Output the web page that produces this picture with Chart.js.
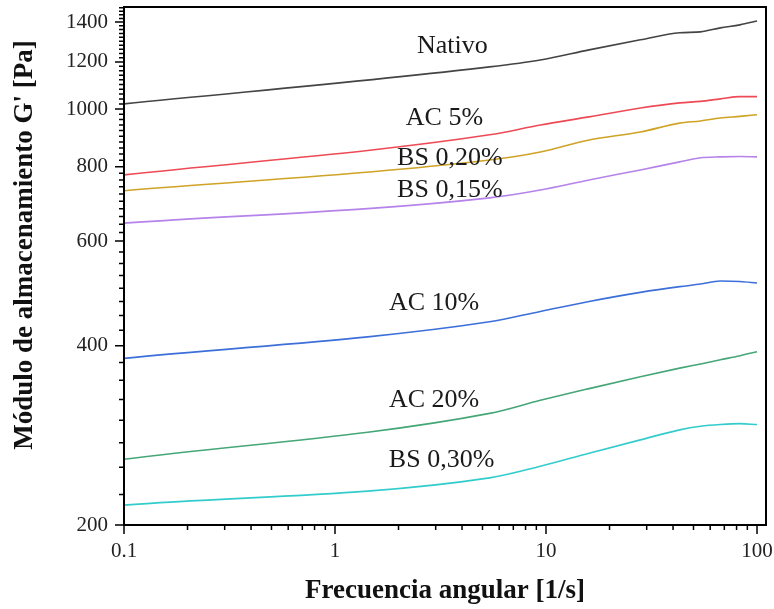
<!DOCTYPE html>
<html>
<head>
<meta charset="utf-8">
<script src="https://cdn.jsdelivr.net/npm/chart.js@4.4.1/dist/chart.umd.min.js"></script>
<style>
  html, body { margin: 0; padding: 0; background: #fff; overflow: hidden; }
  #wrap { width: 774px; height: 609px; }
</style>
</head>
<body>
<div id="wrap"><canvas id="Chart"></canvas></div>
<script>
// angular frequency [1/s]
const freq = [0.1, 5.4, 9.4, 16, 28, 43, 54, 67, 83, 100];

// storage modulus G' [Pa]
const nativo = [1020, 1177, 1209, 1257, 1307, 1343, 1348, 1369, 1385, 1406];
const ac5 = [775, 905, 940, 970, 1004, 1024, 1030, 1040, 1049, 1049];
const bs020 = [729, 821, 847, 887, 915, 947, 955, 966, 972, 978];
const bs015 = [643, 709, 731, 760, 790, 815, 828, 831, 832, 831];
const ac10 = [381, 439, 457, 475, 492, 503, 508, 514, 513, 510];
const ac20 = [258, 308, 324, 339, 355, 367, 373, 379, 385, 391];
const bs030 = [216, 240, 251, 264, 278, 289, 293, 295, 296, 295];

const seriesNames = ['Nativo', 'AC 5%', 'BS 0,20%', 'BS 0,15%', 'AC 10%', 'AC 20%', 'BS 0,30%'];
const seriesColors = ['#444444', '#ee4a55', '#cfa325', '#b583ea', '#3c6fd9', '#45a677', '#33cccc'];

// text labels placed in data space (freq, G')
const labelX = [3.6, 3.3, 3.5, 3.5, 2.95, 2.95, 3.2];
const labelY = [1277, 966, 828, 731, 472, 324, 257];

const yMajor = [200, 400, 600, 800, 1000, 1200, 1400];
const xMajor = [0.1, 1, 10, 100];

const yTitle = "Módulo de almacenamiento G' [Pa]";

const seriesData = [nativo, ac5, bs020, bs015, ac10, ac20, bs030];

const datasets = seriesData.map((vals, i) => ({
  label: seriesNames[i],
  data: vals.map((v, j) => ({ x: freq[j], y: v })),
  borderColor: seriesColors[i],
  borderWidth: 1.6,
  pointRadius: 0,
  cubicInterpolationMode: 'monotone',
  fill: false,
}));

// minor ticks: 2..9 per decade on x, linear steps on y
const xMinor = [];
[0.1, 1, 10].forEach(d => { for (let k = 2; k <= 9; k++) xMinor.push(d * k); });
const yMinor = [];
for (let v = 225; v < 400; v += 25) yMinor.push(v);
for (let v = 425; v < 600; v += 25) yMinor.push(v);
for (let v = 620; v <= 1480; v += 20) if (v % 200 !== 0) yMinor.push(v);

const frameAndTicks = {
  id: 'frameAndTicks',
  afterDatasetsDraw(chart) {
    const { ctx, chartArea: a, scales } = chart;
    const xs = scales.x, ys = scales.y;
    ctx.save();
    ctx.strokeStyle = '#000';
    ctx.lineWidth = 1.5;
    ctx.beginPath();
    xMajor.forEach(v => { const p = xs.getPixelForValue(v); ctx.moveTo(p, a.bottom); ctx.lineTo(p, a.bottom + 9); });
    xMinor.forEach(v => { const p = xs.getPixelForValue(v); ctx.moveTo(p, a.bottom); ctx.lineTo(p, a.bottom + 5); });
    yMajor.forEach(v => { const p = ys.getPixelForValue(v); ctx.moveTo(a.left, p); ctx.lineTo(a.left - 9, p); });
    yMinor.forEach(v => { const p = ys.getPixelForValue(v); ctx.moveTo(a.left, p); ctx.lineTo(a.left - 5, p); });
    ctx.stroke();
    ctx.lineWidth = 2;
    ctx.strokeRect(a.left, a.top, a.right - a.left, a.bottom - a.top);

    // curve labels
    ctx.fillStyle = '#1a1a1a';
    ctx.font = '26px "Liberation Serif", "DejaVu Serif", serif';
    ctx.textAlign = 'center';
    ctx.textBaseline = 'middle';
    seriesNames.forEach((n, i) => {
      ctx.fillText(n, xs.getPixelForValue(labelX[i]), ys.getPixelForValue(labelY[i]));
    });

    // y axis title, sits a bit above the axis centre in the original
    ctx.fillStyle = '#111';
    ctx.font = 'bold 27px "Liberation Serif", serif';
    ctx.translate(25, 245);
    ctx.rotate(-Math.PI / 2);
    ctx.fillText(yTitle, 0, 0);
    ctx.restore();
  }
};

new Chart(document.getElementById('Chart').getContext('2d'), {
  type: 'line',
  data: { datasets },
  options: {
    responsive: true,
    maintainAspectRatio: false,
    animation: false,
    layout: { padding: { top: 7, right: 8, left: 0, bottom: 0 } },
    plugins: { legend: { display: false }, tooltip: { enabled: false } },
    scales: {
      x: {
        type: 'logarithmic',
        min: 0.1,
        max: 110.3,
        afterBuildTicks: s => { s.ticks = xMajor.map(v => ({ value: v })); },
        afterFit: s => { s.height = 84; s.paddingLeft = 0; s.paddingRight = 0; },
        grid: { display: false, drawTicks: false },
        border: { display: false },
        ticks: {
          padding: 14,
          color: '#222',
          font: { family: '"Liberation Serif", serif', size: 21 },
          maxRotation: 0,
          callback: v => String(v),
        },
        title: {
          display: true,
          text: 'Frecuencia angular [1/s]',
          color: '#111',
          font: { family: '"Liberation Serif", serif', size: 27, weight: 'bold' },
          padding: { top: 0, bottom: 2 },
        },
      },
      y: {
        type: 'logarithmic',
        min: 200,
        max: 1484,
        afterBuildTicks: s => { s.ticks = yMajor.map(v => ({ value: v })); },
        afterFit: s => { s.width = 124; s.paddingTop = 0; s.paddingBottom = 0; },
        grid: { display: false, drawTicks: false },
        border: { display: false },
        ticks: {
          padding: 16,
          color: '#222',
          font: { family: '"Liberation Serif", serif', size: 21 },
          callback: v => String(v),
        },
        title: { display: false },
      },
    },
  },
  plugins: [frameAndTicks],
});
</script>
</body>
</html>
